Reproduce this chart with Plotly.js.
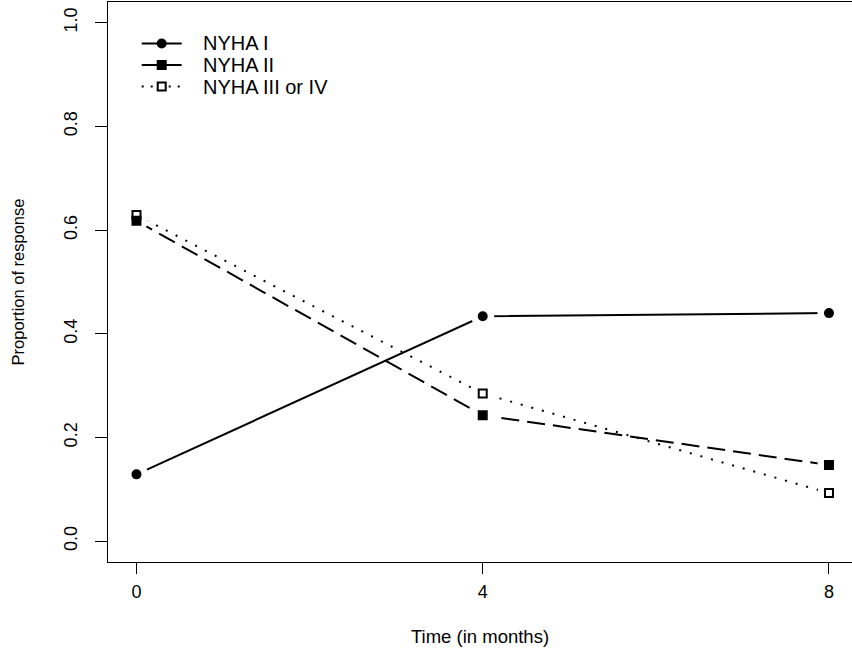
<!DOCTYPE html>
<html>
<head>
<meta charset="utf-8">
<script src="https://cdn.plot.ly/plotly-3.0.1.min.js"></script>
<style>html,body{margin:0;padding:0;background:#fff;}#chart{width:852px;height:653px;}</style>
</head>
<body>
<div id="chart"></div>
<script>
var months = [0, 4, 8];
var nyha1 = [0.129, 0.434, 0.440];
var nyha2 = [0.618, 0.243, 0.147];
var nyha34 = [0.629, 0.285, 0.093];
var seriesNames = ['NYHA I', 'NYHA II', 'NYHA III or IV'];
var xTicks = [0, 4, 8];
var yTicks = [0, 0.2, 0.4, 0.6, 0.8, 1.0];
var yTickText = ['0.0', '0.2', '0.4', '0.6', '0.8', '1.0'];

var series = [nyha1, nyha2, nyha34];
var symbols = ['circle', 'square', 'square-open'];
var dashes = ['solid', '18px,8px', '2px,9px'];
var msize = 8;

var traces = [];
series.forEach(function (s, i) {
  traces.push({
    x: months, y: s, name: seriesNames[i], type: 'scatter', mode: 'lines',
    line: {color: '#000', width: 2, dash: dashes[i]}, showlegend: false, hoverinfo: 'skip'
  });
});
// white halo (gap between lines and points, like R type="b")
var hx = [], hy = [];
series.forEach(function (s) { months.forEach(function (m, j) { hx.push(m); hy.push(s[j]); }); });
traces.push({
  x: hx, y: hy, type: 'scatter', mode: 'markers', showlegend: false, hoverinfo: 'skip',
  marker: {symbol: 'circle', size: 23, color: '#fff', line: {width: 0}}
});
series.forEach(function (s, i) {
  traces.push({
    x: months, y: s, name: seriesNames[i], type: 'scatter', mode: 'markers', showlegend: false, hoverinfo: 'skip',
    marker: {symbol: symbols[i], size: msize, color: '#000', line: {color: '#000', width: 2}}
  });
});

// Manual legend (R-style), positioned in pixels of the plot area
var L = 108, W = 744, T = 2, H = 560;
function px(x) { return (x - L) / W; }
function py(y) { return (T + H - y) / H; }
var rowsY = [43.5, 65, 86.5];
var lx0 = 141.7, lx1 = 181.7, mx = 161.7, tx = 201, half = 5;
var shapes = [], annotations = [];
rowsY.forEach(function (y, i) {
  shapes.push({type: 'line', xref: 'paper', yref: 'paper', x0: px(lx0), x1: px(lx1), y0: py(y), y1: py(y),
    line: {color: '#000', width: 2, dash: i === 2 ? '2px,7px' : 'solid'}});
  var isCircle = i === 0;
  shapes.push({type: isCircle ? 'circle' : 'rect', xref: 'paper', yref: 'paper',
    x0: px(mx - half), x1: px(mx + half), y0: py(y + half), y1: py(y - half),
    fillcolor: i === 2 ? '#fff' : '#000', line: {color: '#000', width: i === 2 ? 2 : 0}});
  annotations.push({xref: 'paper', yref: 'paper', x: px(tx), y: py(y), xanchor: 'left', yanchor: 'middle',
    text: seriesNames[i], showarrow: false, font: {family: 'Liberation Sans, Arial, sans-serif', size: 20, color: '#000'}});
});
// open square: shrink so stroke sits inside
shapes[5].x0 = px(mx - 4); shapes[5].x1 = px(mx + 4); shapes[5].y0 = py(86.5 + 4); shapes[5].y1 = py(86.5 - 4);

var fam = 'Liberation Sans, Arial, sans-serif';
var layout = {
  width: 852, height: 653,
  margin: {l: 108, r: 0, t: 2, b: 91},
  paper_bgcolor: '#fff', plot_bgcolor: '#fff',
  font: {family: fam, size: 18, color: '#000'},
  showlegend: false,
  shapes: shapes, annotations: annotations,
  xaxis: {
    range: [-0.329, 8.266], tickvals: xTicks, ticktext: xTicks.map(String),
    showgrid: false, zeroline: false, showline: true, linecolor: '#000', linewidth: 1,
    mirror: true, ticks: 'outside', ticklen: 11, tickcolor: '#000', tickwidth: 1,
    ticklabelstandoff: 2,
    tickfont: {family: fam, size: 18, color: '#000'},
    title: {text: 'Time (in months)', font: {family: fam, size: 18.5, color: '#000'}, standoff: 29}
  },
  yaxis: {
    range: [-0.04, 1.04], tickvals: yTicks, ticktext: yTickText, tickangle: -90,
    showgrid: false, zeroline: false, showline: true, linecolor: '#000', linewidth: 1,
    ticks: 'outside', ticklen: 12, tickcolor: '#000', tickwidth: 1,
    ticklabelstandoff: 11,
    tickfont: {family: fam, size: 18, color: '#000'},
    title: {text: 'Proportion of response', font: {family: fam, size: 16.5, color: '#000'}, standoff: 32}
  }
};
Plotly.newPlot('chart', traces, layout, {displayModeBar: false, staticPlot: true});
</script>
</body>
</html>
